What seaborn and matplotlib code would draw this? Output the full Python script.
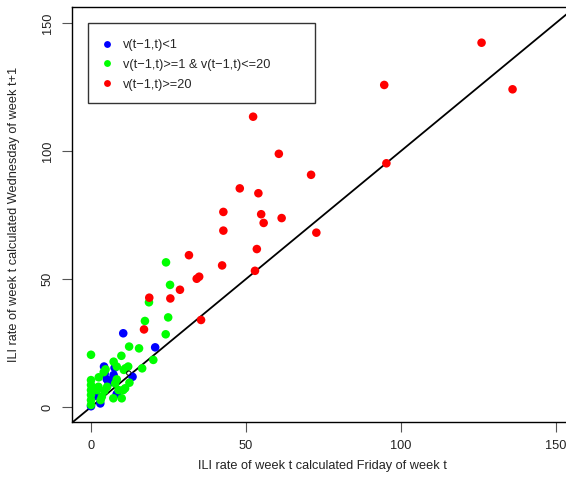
import matplotlib
matplotlib.use("Agg")
import matplotlib.pyplot as plt
from matplotlib.patches import Rectangle
import numpy as np
import pandas as pd
import seaborn as sns

# ILI rates: Friday estimate of week t (x) vs Wednesday estimate of week t+1 (y)
blue_x = [10.4, 20.7, 4.2, 7.6, 7.3, 13.4, 5.7, 6.7, 5.1, 8.3, 1.8, 3.0, 0.0, 4.4]
blue_y = [28.8, 23.3, 15.8, 15.3, 12.5, 11.8, 9.3, 10.2, 10.8, 5.1, 4.3, 1.4, 0.3, 13.0]

green_x = [24.2, 25.5, 18.7, 24.9, 17.4, 24.1, 12.3, 15.5, 0.0, 9.8,
           20.1, 7.3, 16.5, 12.0, 11.1, 4.7, 4.1, 8.3, 10.6, 2.5,
           0.0, 0.0, 0.0, 0.0, 0.0, 0.0, 8.3, 7.8, 12.4, 11.0,
           10.4, 8.9, 5.2, 2.4, 1.9, 4.3, 3.5, 3.1, 7.2, 9.9]
green_y = [56.5, 47.7, 40.9, 35.0, 33.6, 28.4, 23.6, 22.9, 20.4, 20.0,
           18.4, 17.7, 15.1, 15.8, 15.1, 14.7, 13.6, 15.8, 14.5, 11.6,
           10.5, 8.6, 6.6, 4.7, 2.7, 0.8, 10.8, 9.2, 9.5, 7.3,
           6.6, 6.6, 7.9, 7.9, 6.6, 6.3, 4.0, 2.7, 3.4, 3.4]

red_x = [126.0, 94.6, 136.0, 52.3, 60.6, 71.0, 48.0, 54.0, 95.3, 42.7,
         54.9, 55.7, 61.5, 42.7, 72.7, 53.5, 31.6, 42.3, 52.9, 34.9,
         34.1, 28.7, 18.8, 25.6, 35.5, 17.1]
red_y = [142.3, 125.8, 124.1, 113.4, 98.9, 90.7, 85.4, 83.5, 95.2, 76.2,
         75.3, 71.9, 73.8, 68.9, 68.1, 61.7, 59.3, 55.3, 53.2, 50.9,
         50.1, 45.8, 42.7, 42.4, 34.0, 30.3]

# single week without a group, drawn as an open circle
other_x = [12.2]
other_y = [13.2]

groups = ["v(t\u22121,t)<1",
          "v(t\u22121,t)>=1 & v(t\u22121,t)<=20",
          "v(t\u22121,t)>=20"]
colors = ["#0000ff", "#00ff00", "#ff0000"]
ticks = [0, 50, 100, 150]

df = pd.concat([
    pd.DataFrame({"friday": blue_x, "wednesday": blue_y, "group": groups[0]}),
    pd.DataFrame({"friday": green_x, "wednesday": green_y, "group": groups[1]}),
    pd.DataFrame({"friday": red_x, "wednesday": red_y, "group": groups[2]}),
], ignore_index=True)

sns.set_style("white")
plt.rcParams["font.family"] = ["Liberation Sans", "DejaVu Sans"]
FS = 9.2

W, H = 566, 487
fig = plt.figure(figsize=(W / 100, H / 100), dpi=100)
ax = fig.add_axes([72 / W, (H - 422) / H, (573 - 72) / W, (422 - 7) / H])

sns.scatterplot(data=df, x="friday", y="wednesday", hue="group",
                hue_order=groups, palette=dict(zip(groups, colors)),
                s=38, linewidth=0, ax=ax, legend=True, zorder=3)
ax.scatter(other_x, other_y, s=10, facecolors="none", edgecolors="black",
           linewidths=0.7, zorder=4)
ax.axline((0, 0), slope=1, color="black", lw=1.3, zorder=2)

ax.set_xlim(-6.13, 155.5)
ax.set_ylim(-5.86, 156.25)
ax.set_xticks(ticks)
ax.set_yticks(ticks)
ax.set_xticklabels([str(t) for t in ticks])
ax.set_yticklabels([str(t) for t in ticks])
ax.tick_params(axis="both", which="major", bottom=True, left=True,
               direction="out", length=7, width=0.8, color="#555555",
               labelsize=FS, pad=6, labelcolor="#222222")
ax.tick_params(axis="y", labelrotation=90)
for lab in ax.get_yticklabels():
    lab.set_va("center")
ax.set_xlabel("")
ax.set_ylabel("")
for sp in ax.spines.values():
    sp.set_color("black")
    sp.set_linewidth(1.0)

fig.text(322 / W, 1 - 466 / H, "ILI rate of week t calculated Friday of week t",
         ha="center", va="center", fontsize=FS, color="#222222")
fig.text(14 / W, 1 - 214.5 / H,
         "ILI rate of week t calculated Wednesday of week t+1",
         ha="center", va="center", rotation=90, fontsize=FS, color="#222222")

# legend box
handles, labels = ax.get_legend_handles_labels()
ax.legend(handles, labels, loc="upper left",
          bbox_to_anchor=(100.5 / W, 1 - 39 / H), bbox_transform=fig.transFigure,
          frameon=False, fontsize=FS, handlelength=1.0, handletextpad=0.75,
          borderpad=0, borderaxespad=0, labelspacing=0.62, markerscale=0.8)
fig.patches.append(Rectangle((88 / W, 1 - 103 / H), (315 - 88) / W, 80 / H,
                             transform=fig.transFigure, fill=False,
                             edgecolor="#333333", lw=1.0, zorder=10))

fig.savefig("out.png", dpi=100)
